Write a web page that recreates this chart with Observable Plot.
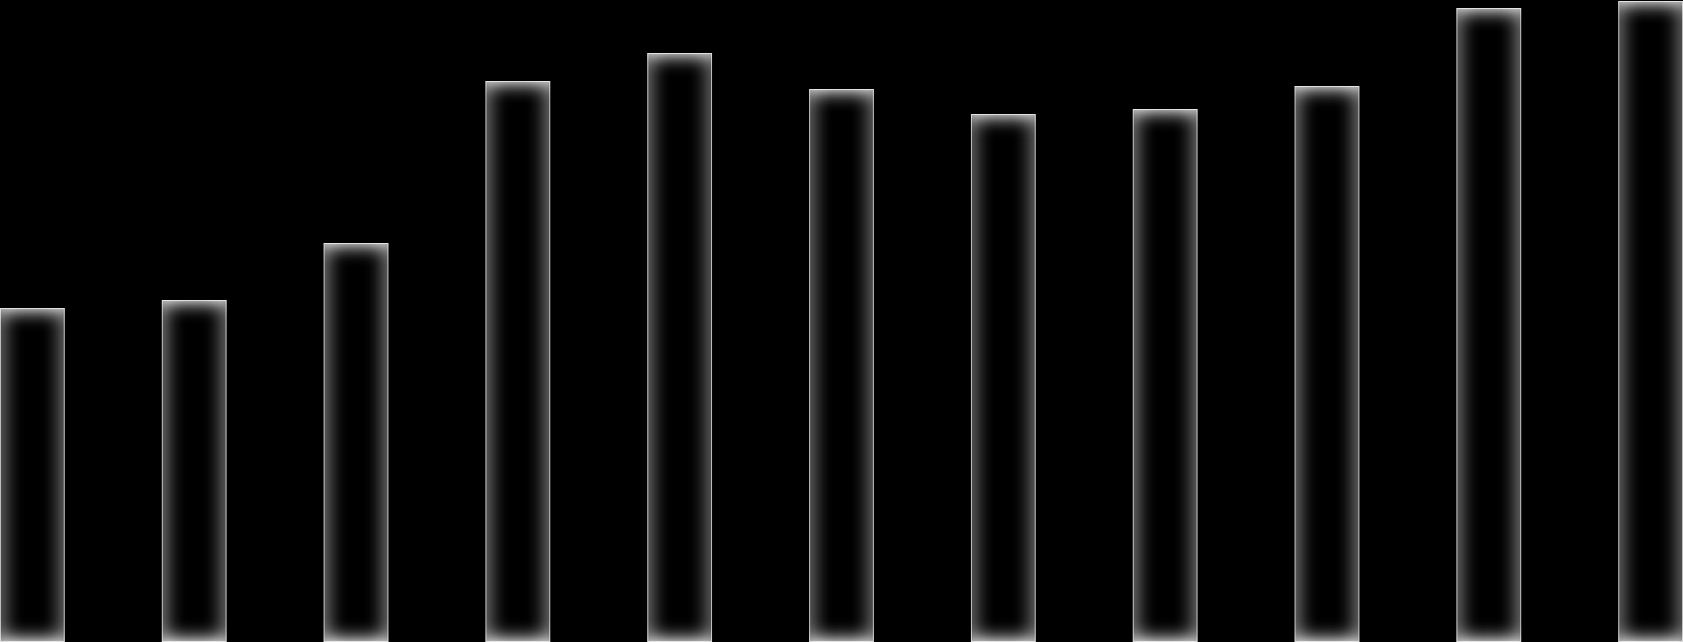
<!DOCTYPE html>
<html>
<head>
<meta charset="utf-8">
<script src="https://cdn.jsdelivr.net/npm/d3@7"></script>
<script src="https://cdn.jsdelivr.net/npm/@observablehq/plot@0.6"></script>
<style>
  html, body { margin: 0; padding: 0; background: #000; overflow: hidden; }
  #chart svg { display: block; }
</style>
</head>
<body>
<div id="chart"></div>
<script>
const categories = ["1", "2", "3", "4", "5", "6", "7", "8", "9", "10", "11"];
const values = [334, 342, 399, 561, 589, 553, 528, 533, 556, 634, 641];

const data = categories.map((c, i) => ({ category: c, value: values[i] }));

const chart = Plot.plot({
  width: 1683,
  height: 642,
  margin: 0,
  style: { background: "#000", overflow: "visible" },
  x: { domain: categories, paddingInner: 0.6, paddingOuter: 0, align: 0.5, round: false, axis: null },
  y: { domain: [0, 642], axis: null },
  marks: [
    Plot.barY(data, {
      x: "category",
      y: "value",
      fill: "#000",
      stroke: "#a4a4a4",
      strokeWidth: 1,
      inset: 0.5
    })
  ]
});

// inner glow filter
const ns = "http://www.w3.org/2000/svg";
const defs = document.createElementNS(ns, "defs");
defs.innerHTML = `
  <filter id="innerglow" x="-10%" y="-10%" width="120%" height="120%" color-interpolation-filters="sRGB">
    <feFlood flood-color="#ffffff" result="white"/>
    <feComposite in="white" in2="SourceAlpha" operator="out" result="outside"/>
    <feGaussianBlur in="outside" stdDeviation="10" result="blur"/>
    <feComponentTransfer in="blur" result="blur2">
      <feFuncA type="linear" slope="1.35"/>
    </feComponentTransfer>
    <feComposite in="blur2" in2="SourceAlpha" operator="in" result="glow"/>
    <feMerge>
      <feMergeNode in="SourceGraphic"/>
      <feMergeNode in="glow"/>
    </feMerge>
  </filter>`;
chart.insertBefore(defs, chart.firstChild);
chart.querySelectorAll("rect").forEach(r => r.setAttribute("filter", "url(#innerglow)"));

document.getElementById("chart").appendChild(chart);
</script>
</body>
</html>
